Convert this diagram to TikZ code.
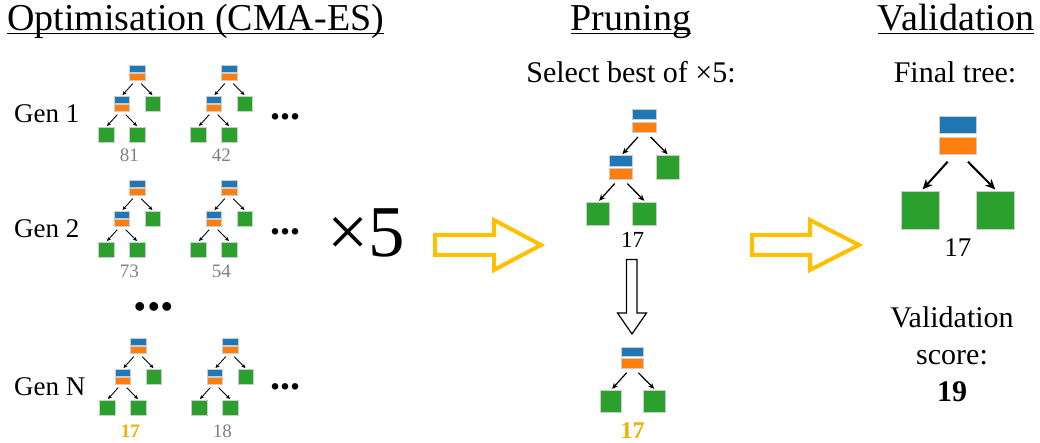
\documentclass[tikz,border=0pt]{standalone}
\usepackage{fontspec}
\setmainfont{Liberation Serif}
\usetikzlibrary{arrows.meta, positioning}

\definecolor{splitblue}{HTML}{1F77B4}
\definecolor{splitorange}{HTML}{FF7F0E}
\definecolor{leafgreen}{HTML}{2CA02C}
\definecolor{stepgold}{HTML}{FFC000}
\definecolor{bestgold}{HTML}{EDB100}
\definecolor{scoregrey}{HTML}{7F7F7F}

\tikzstyle{blk} = [rectangle, inner sep=0pt, outer sep=0pt, draw=black!20, line width=0.4pt]
\tikzstyle{blueblk} = [blk, fill=splitblue]
\tikzstyle{orangeblk} = [blk, fill=splitorange]
\tikzstyle{leaf} = [blk, fill=leafgreen]
\tikzset{
	title/.style={font=\fontsize{38}{44}\selectfont, anchor=base, inner sep=0pt},
	underline/.style={line width=1.6pt},
	caption/.style={font=\fontsize{30}{37}\selectfont, anchor=base, inner sep=0pt},
	genlabel/.style={font=\fontsize{27}{32}\selectfont, anchor=base west, inner sep=0pt},
	score/.style={anchor=base, inner sep=0pt, text=scoregrey, font=\fontsize{19}{22}\selectfont},
	bestscore/.style={score, text=bestgold, font=\fontsize{19}{22}\selectfont\bfseries},
	dots/.style={inner sep=0pt, font=\fontsize{40}{40}\selectfont\bfseries},
	twig/.style={line width=\twigwd pt, -{Stealth[length=\twigtl pt, width=\twigtw pt]}},
	bigarrow/.style={draw=stepgold, line width=4pt, line join=miter, fill=white},
	downarrow/.style={draw=black, line width=1.2pt, line join=miter, fill=white}
}

% sizes of the arrows in a tree, from the leaf size
\newcommand{\twigsizes}[1]{%
	\pgfmathsetmacro{\twigwd}{0.055*#1}%
	\pgfmathsetmacro{\twigtl}{0.27*#1}%
	\pgfmathsetmacro{\twigtw}{0.24*#1}%
	\pgfmathsetmacro{\twigdx}{0.27*#1}%
	\pgfmathsetmacro{\twigdy}{0.2*#1}%
	\pgfmathsetmacro{\twigend}{0.06*#1}%
}

% split node: blue over orange, centre x, top y, width s
\newcommand{\splitnode}[4]{%
	\node[blueblk, minimum width=#4pt, minimum height={0.45*#4}] (#1b) at ({#2}, {#3+0.225*#4}) {};
	\node[orangeblk, minimum width=#4pt, minimum height={0.45*#4}] (#1o) at ({#2}, {#3+0.775*#4}) {};
}

% two level tree: name, root x, root top, leaf size
\newcommand{\deeptree}[4]{%
	\twigsizes{#4}
	\splitnode{#1-r}{#2}{#3}{#4}
	\splitnode{#1-i}{#2-#4}{#3+2*#4}{#4}
	\node[leaf, minimum size=#4pt] (#1-rl) at ({#2+#4}, {#3+2.5*#4}) {};
	\node[leaf, minimum size=#4pt] (#1-ll) at ({#2-2*#4}, {#3+4.5*#4}) {};
	\node[leaf, minimum size=#4pt] (#1-lr) at ({#2}, {#3+4.5*#4}) {};
	\draw[twig] ([xshift=-\twigdx pt, yshift=-\twigdy pt]#1-ro.south) -- ([xshift=\twigend pt, yshift=\twigend pt]#1-ib.north);
	\draw[twig] ([xshift=\twigdx pt, yshift=-\twigdy pt]#1-ro.south) -- ([yshift=\twigend pt]#1-rl.north);
	\draw[twig] ([xshift=-\twigdx pt, yshift=-\twigdy pt]#1-io.south) -- ([xshift=\twigend pt, yshift=\twigend pt]#1-ll.north);
	\draw[twig] ([xshift=\twigdx pt, yshift=-\twigdy pt]#1-io.south) -- ([yshift=\twigend pt]#1-lr.north);
}

% one level tree: name, root x, root top, leaf size
\newcommand{\stumptree}[4]{%
	\twigsizes{#4}
	\splitnode{#1-r}{#2}{#3}{#4}
	\node[leaf, minimum size=#4pt] (#1-ll) at ({#2-#4}, {#3+2.5*#4}) {};
	\node[leaf, minimum size=#4pt] (#1-lr) at ({#2+#4}, {#3+2.5*#4}) {};
	\draw[twig] ([xshift=-\twigdx pt, yshift=-\twigdy pt]#1-ro.south) -- ([xshift=\twigend pt, yshift=\twigend pt]#1-ll.north);
	\draw[twig] ([xshift=\twigdx pt, yshift=-\twigdy pt]#1-ro.south) -- ([yshift=\twigend pt]#1-lr.north);
}

\begin{document}
\begin{tikzpicture}[x=1pt, y=-1pt]
	\useasboundingbox (0,0) rectangle (1040,443);
	
	% Titles
	\node[title, anchor=base west] (opttitle) at (7,31) {Optimisation (CMA-ES)};
	\node[title] (prunetitle) at (631,31) {Pruning};
	\node[title] (valtitle) at (956,31) {Validation};
	\draw[underline] ([yshift=-2.5pt]opttitle.base west) -- ([yshift=-2.5pt]opttitle.base east);
	\draw[underline] ([yshift=-2.5pt]prunetitle.base west) -- ([yshift=-2.5pt]prunetitle.base east);
	\draw[underline] ([yshift=-2.5pt]valtitle.base west) -- ([yshift=-2.5pt]valtitle.base east);
	
	% Optimisation
	\node[genlabel] (gen1) at (14,123) {Gen 1};
	\node[genlabel] (gen2) at (14,238) {Gen 2};
	\node[genlabel] (genN) at (14,395) {Gen N};
	
	\deeptree{g1a}{137}{65}{15.5}
	\deeptree{g1b}{229}{65}{15.5}
	\deeptree{g2a}{137}{180}{15.5}
	\deeptree{g2b}{229}{180}{15.5}
	\deeptree{gNa}{138}{338}{15.5}
	\deeptree{gNb}{230}{338}{15.5}
	
	\node[score] (g1a-s) at (129.25,162) {81};
	\node[score] (g1b-s) at (221.25,162) {42};
	\node[score] (g2a-s) at (129.25,277) {73};
	\node[score] (g2b-s) at (221.25,277) {54};
	\node[bestscore] (gNa-s) at (130.25,437) {17};
	\node[score] (gNb-s) at (222.25,437) {18};
	
	\node[dots] (g1more) at (285,117) {...};
	\node[dots] (g2more) at (285,232) {...};
	\node[dots] (gNmore) at (285,387) {...};
	\node[dots, font=\fontsize{54}{54}\selectfont\bfseries] (genmore) at (154,307) {...};
	
	\node[inner sep=0pt, font=\fontsize{73}{80}\selectfont] (times5) at (366,233) {×5};
	
	% Optimisation to pruning
	\draw[bigarrow] (435,235) -- (494,235) -- (494,220) -- (541,245) -- (494,270) -- (494,255) -- (435,255) -- cycle;
	
	% Pruning
	\node[caption] (selectcap) at (631,83) {Select best of ×5:};
	\deeptree{best}{644.3}{109}{23.3}
	\node[score, text=black, font=\fontsize{23}{26}\selectfont] (best-s) at (632.6,248) {17};
	
	\draw[downarrow] (626.5,259.5) -- (637,259.5) -- (637,313) -- (646.5,313) -- (632,334) -- (617.5,313) -- (626.5,313) -- cycle;
	
	\stumptree{pruned}{632.5}{346.7}{21.7}
	\node[bestscore, font=\fontsize{24}{26}\selectfont\bfseries] (pruned-s) at (632.5,438) {17};
	
	% Pruning to validation
	\draw[bigarrow] (752,235) -- (810,235) -- (810,220) -- (859,245) -- (810,270) -- (810,255) -- (752,255) -- cycle;
	
	% Validation
	\node[caption] (finalcap) at (955,83) {Final tree:};
	\stumptree{final}{957.8}{116.7}{37.5}
	\node[score, text=black, font=\fontsize{27}{30}\selectfont] (final-s) at (957.8,257) {17};
	
	\node[inner sep=0pt, align=center, font=\fontsize{30}{37}\selectfont] (valscore) at (952,354) {Validation\\score:\\\textbf{19}};
	
\end{tikzpicture}
\end{document}
